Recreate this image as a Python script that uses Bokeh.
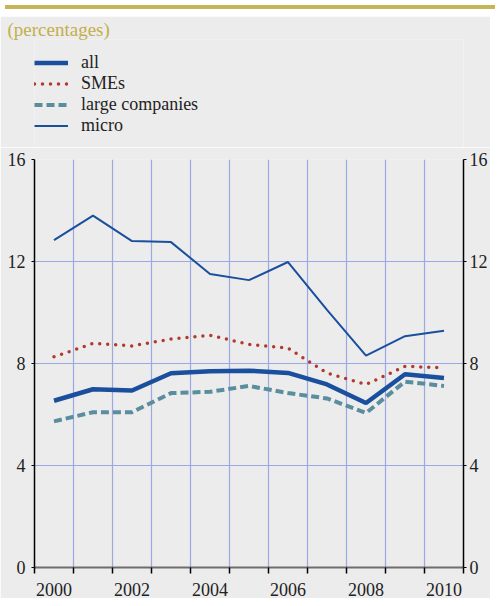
from bokeh.plotting import figure
from bokeh.models import (FixedTicker, LinearAxis, Range1d, Legend, LegendItem,
                          Grid, Div, Title)
from bokeh.layouts import column
from bokeh.embed import file_html
from bokeh.resources import INLINE

# ---- data ----
years = [2000, 2001, 2002, 2003, 2004, 2005, 2006, 2007, 2008, 2009, 2010]
all_firms = [6.54, 6.99, 6.94, 7.62, 7.70, 7.72, 7.63, 7.18, 6.45, 7.58, 7.43]
smes = [8.26, 8.79, 8.69, 8.96, 9.11, 8.75, 8.60, 7.63, 7.18, 7.89, 7.83]
large_companies = [5.73, 6.09, 6.09, 6.84, 6.89, 7.12, 6.84, 6.63, 6.06, 7.29, 7.12]
micro = [12.84, 13.80, 12.80, 12.76, 11.51, 11.27, 11.98, 10.10, 8.31, 9.07, 9.28]
y_ticks = [0, 4, 8, 12, 16]
x_label_years = [2000, 2002, 2004, 2006, 2008, 2010]
series_names = ["all", "SMEs", "large companies", "micro"]
series_values = {"all": all_firms, "SMEs": smes,
                 "large companies": large_companies, "micro": micro}
title_text = "(percentages)"

FONT = "'Liberation Serif'"
BG = "#ececec"
GOLD = "#c8b456"
BLUE = "#1a4f9e"
RED = "#b13a2f"
TEAL = "#5a8e9e"
GRID = "#9aa8e4"
W = 490
BL, BR = 34, 24

styles = {
    "all": dict(line_color=BLUE, line_width=4.5),
    "SMEs": dict(line_color=RED, line_width=3.5, line_dash="0 8", line_cap="round"),
    "large companies": dict(line_color=TEAL, line_width=4, line_dash="8 4"),
    "micro": dict(line_color=BLUE, line_width=2),
}

# ---------- gold bar with white strip ----------
bar = Div(width=W, height=6,
          styles={"background-color": GOLD, "border-bottom": "2px solid white"})

# ---------- header (title + legend) ----------
HH = 131
h = figure(width=W, height=HH, x_range=Range1d(0, 1), y_range=Range1d(0, 1),
           x_axis_type=None, y_axis_type=None, output_backend="svg",
           toolbar_location=None, min_border_top=0, min_border_bottom=0,
           min_border_left=BL, min_border_right=BR,
           background_fill_color=BG, border_fill_color=BG,
           outline_line_color=None)
h.xgrid.visible = False
h.ygrid.visible = False
h.title = Title(text=title_text, align="left", offset=-27, standoff=0,
                text_font=FONT, text_font_size="19px", text_font_style="normal",
                text_color="#c4ae4c")
items = []
for name in series_names:
    # legend sample renderers (data lie outside the header's view)
    r = h.line(years, series_values[name], **styles[name])
    items.append(LegendItem(label=name, renderers=[r]))
h.add_layout(Legend(items=items, location=(0, 11), orientation="vertical",
                    padding=0, margin=0, spacing=0,
                    glyph_width=34, glyph_height=21, label_height=21,
                    label_standoff=13,
                    label_text_font=FONT, label_text_font_size="18px",
                    label_text_color="#222222",
                    border_line_color=None, background_fill_alpha=0))

# ---------- chart ----------
band_edges = [y - 0.5 for y in years] + [years[-1] + 0.5]

p = figure(width=W, height=451,
           x_range=Range1d(band_edges[0], band_edges[-1]),
           y_range=Range1d(y_ticks[0], y_ticks[-1]),
           x_axis_type=None, y_axis_type=None,
           output_backend="svg", toolbar_location=None,
           min_border_left=BL, min_border_right=BR,
           min_border_top=12, min_border_bottom=29,
           background_fill_color=BG, border_fill_color=BG,
           outline_line_color=None)

p.add_layout(Grid(dimension=0, ticker=FixedTicker(ticks=band_edges[1:-1]),
                  grid_line_color=GRID, grid_line_width=1.2))
p.add_layout(Grid(dimension=1, ticker=FixedTicker(ticks=y_ticks[1:]),
                  grid_line_color=GRID, grid_line_width=1.2))

def style_y(ax, standoff):
    ax.ticker = FixedTicker(ticks=y_ticks)
    ax.axis_line_color = "black"
    ax.axis_line_width = 1.5
    ax.major_tick_line_color = "black"
    ax.major_tick_in = 0
    ax.major_tick_out = 3
    ax.minor_tick_line_color = None
    ax.major_label_standoff = standoff
    ax.major_label_text_font = FONT
    ax.major_label_text_font_size = "18px"
    ax.major_label_text_color = "#222222"

yl = LinearAxis()
style_y(yl, 6)
p.add_layout(yl, "left")
yr = LinearAxis()
style_y(yr, 3)
p.add_layout(yr, "right")

xb = LinearAxis(ticker=FixedTicker(ticks=x_label_years, minor_ticks=band_edges))
xb.axis_line_color = "#6e6e6e"
xb.axis_line_width = 2
xb.major_tick_line_color = None
xb.major_tick_in = 0
xb.major_tick_out = 0
xb.minor_tick_line_color = "black"
xb.minor_tick_line_width = 1.5
xb.minor_tick_in = 0
xb.minor_tick_out = 6
xb.major_label_standoff = 9
xb.major_label_text_font = FONT
xb.major_label_text_font_size = "18px"
xb.major_label_text_color = "#222222"
p.add_layout(xb, "below")

for name in ["large companies", "SMEs", "all", "micro"]:
    p.line(years, series_values[name], **styles[name])

layout = column(bar, h, p, spacing=0)

open("out.html", "w").write(file_html(layout, INLINE))
